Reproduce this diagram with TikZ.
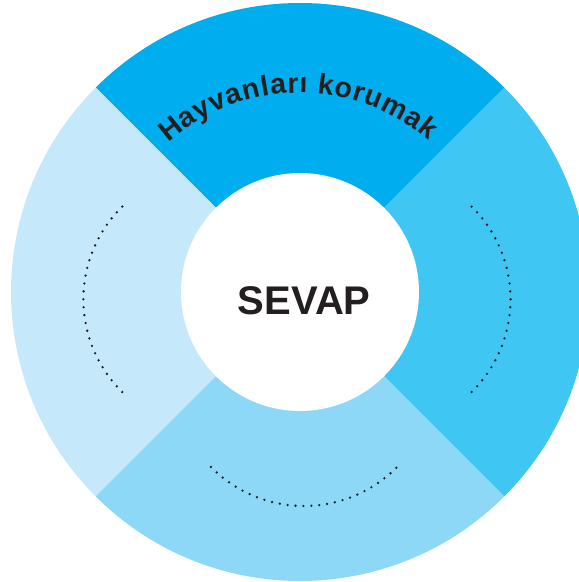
\documentclass[tikz,border=0pt]{standalone}
\usepackage{fontspec}
\setmainfont{Liberation Sans}
\definecolor{segtop}{RGB}{0,174,239}
\definecolor{segright}{RGB}{64,198,243}
\definecolor{segbottom}{RGB}{141,216,246}
\definecolor{segleft}{RGB}{197,233,250}
\definecolor{inkc}{RGB}{35,31,32}
\tikzset{
  ringseg/.style={draw=none},
  dotmark/.style={fill=inkc},
  arcletter/.style={inner sep=0pt, anchor=base, text=inkc, font=\fontsize{28.5}{32}\selectfont\bfseries},
  corecircle/.style={circle, fill=white, inner sep=0pt, minimum size=238pt},
  coretext/.style={inner sep=0pt, anchor=base, text=inkc, font=\fontsize{40}{46}\selectfont\bfseries}
}
\begin{document}
\begin{tikzpicture}[x=1pt,y=1pt]
\useasboundingbox (0,0) rectangle (579,582);
\clip (0,0) rectangle (579,582);
\begin{scope}[shift={(300,290)}]
  % ring segments
  \fill[ringseg, segtop] (0,0) -- (45:289) arc[start angle=45, end angle=135, radius=289] -- cycle;
  \fill[ringseg, segleft] (0,0) -- (135:289) arc[start angle=135, end angle=225, radius=289] -- cycle;
  \fill[ringseg, segbottom] (0,0) -- (225:289) arc[start angle=225, end angle=315, radius=289] -- cycle;
  \fill[ringseg, segright] (0,0) -- (-45:289) arc[start angle=-45, end angle=45, radius=289] -- cycle;
  % core
  \node[corecircle] (core) at (0,0) {};
  \node[coretext] (sevap) at (4.3,-23) {SEVAP};
  % dotted arcs
  \foreach \i in {0,...,26} {
    \fill[dotmark, shift={(-86.6,-7.3)}] ({134.5+\i*91/26}:130) circle[radius=1.3];
    \fill[dotmark, shift={(80.5,-7.3)}] ({-45.5+\i*91/26}:130) circle[radius=1.3];
    \fill[dotmark, shift={(4,-83.5)}] ({224.5+\i*90.5/26}:130.5) circle[radius=1.3];
  }
  % curved title
  \gdef\cum{0}
  \foreach \c/\w [count=\n] in {H/722, a/556, y/556, v/556, a/556, n/611, l/278, a/556, r/389, ı/278, {}/278, k/556, o/611, r/389, u/611, m/889, a/556, k/556} {
    \pgfmathsetmacro\mid{\cum+\w*0.01425}
    \pgfmathsetmacro\ang{90.5+(142.23-\mid)/199*57.29578}
    \node[arcletter, rotate=\ang-90] (L\n) at (\ang:199) {\c};
    \pgfmathsetmacro\nc{\cum+\w*0.0285+0.8}
    \xdef\cum{\nc}
  }
\end{scope}
\end{tikzpicture}
\end{document}
